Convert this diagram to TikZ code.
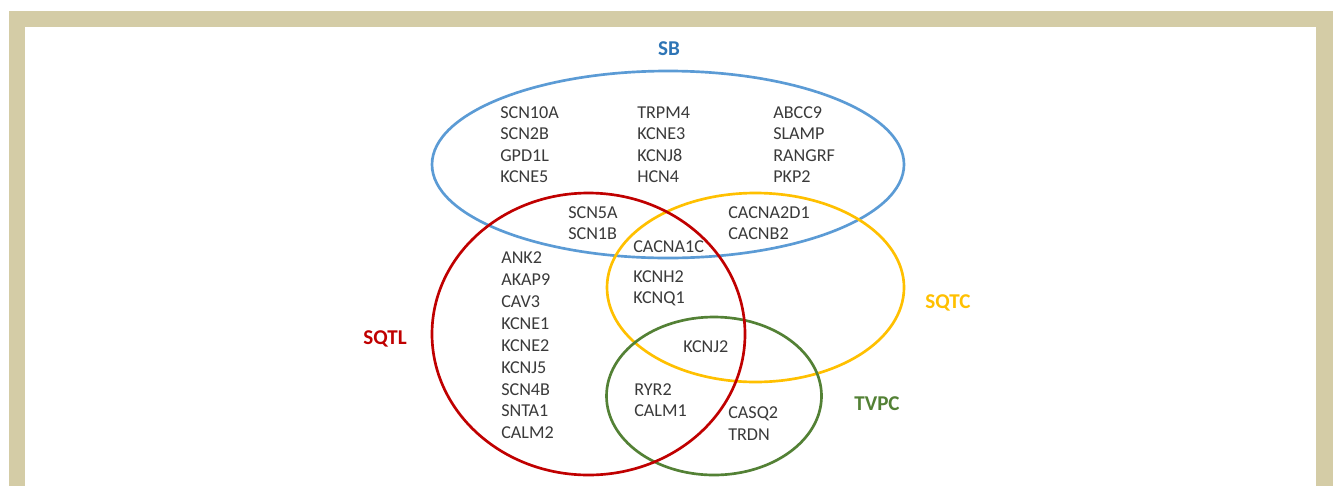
\documentclass[tikz,border=0pt]{standalone}
\usepackage{fontspec}
\setmainfont{Carlito}
\usepackage{tikz}
\definecolor{framebeige}{HTML}{D4CCA6}
\definecolor{sbblue}{HTML}{5B9BD5}
\definecolor{sblabel}{HTML}{2E75B6}
\definecolor{sqtlred}{HTML}{C00000}
\definecolor{sqtcgold}{HTML}{FFC000}
\definecolor{tvpcgreen}{HTML}{538135}
\definecolor{genegray}{HTML}{3A3A3A}
\tikzstyle{gene} = [anchor=base west, inner sep=0pt, text=genegray, font=\fontsize{13.6}{15}\selectfont]
\tikzstyle{setname} = [anchor=base, inner sep=0pt, font=\fontsize{15.8}{18}\selectfont\bfseries]
\tikzstyle{setline} = [line width=2pt]

\begin{document}
\begin{tikzpicture}[x=0.75pt, y=-0.75pt]
        \useasboundingbox (0,0) rectangle (1333,486);
        \fill[framebeige] (9,11) rectangle (1333,486);
        \fill[white] (25,27) rectangle (1316,486);
        \draw[setline, sbblue] (668,164.5) ellipse [x radius=236, y radius=93.5];
        \draw[setline, sqtcgold] (755.5,287.5) ellipse [x radius=148.5, y radius=94.5];
        \draw[setline, tvpcgreen] (714,396) ellipse [x radius=107.5, y radius=79];
        \draw[setline, sqtlred] (588.5,334) ellipse [x radius=156.5, y radius=141];
        \node[setname, text=sblabel] (SB) at (669,55) {SB};
        \node[setname, text=sqtlred] (SQTL) at (385,344) {SQTL};
        \node[setname, text=sqtcgold] (SQTC) at (948,308) {SQTC};
        \node[setname, text=tvpcgreen] (TVPC) at (877,410) {TVPC};
        \foreach \g [count=\i from 0] in {SCN10A,SCN2B,GPD1L,KCNE5}
            \node[gene] (\g) at (500,118.6+21.3*\i) {\g};
        \foreach \g [count=\i from 0] in {TRPM4,KCNE3,KCNJ8,HCN4}
            \node[gene] (\g) at (637,118.6+21.3*\i) {\g};
        \foreach \g [count=\i from 0] in {ABCC9,SLAMP,RANGRF,PKP2}
            \node[gene] (\g) at (773,118.6+21.3*\i) {\g};
        \foreach \g [count=\i from 0] in {SCN5A,SCN1B}
            \node[gene] (\g) at (568,218.6+21*\i) {\g};
        \foreach \g [count=\i from 0] in {CACNA2D1,CACNB2}
            \node[gene] (\g) at (728,218.6+21*\i) {\g};
        \node[gene] (CACNA1C) at (633,252.6) {CACNA1C};
        \foreach \g [count=\i from 0] in {ANK2,AKAP9,CAV3,KCNE1,KCNE2,KCNJ5,SCN4B,SNTA1,CALM2}
            \node[gene] (\g) at (501,263.6+21.9*\i) {\g};
        \foreach \g [count=\i from 0] in {KCNH2,KCNQ1}
            \node[gene] (\g) at (633,282.6+21*\i) {\g};
        \node[gene] (KCNJ2) at (683,352.6) {KCNJ2};
        \foreach \g [count=\i from 0] in {RYR2,CALM1}
            \node[gene] (\g) at (634,395.6+21*\i) {\g};
        \foreach \g [count=\i from 0] in {CASQ2,TRDN}
            \node[gene] (\g) at (728,418.6+22*\i) {\g};
    \end{tikzpicture}
\end{document}
